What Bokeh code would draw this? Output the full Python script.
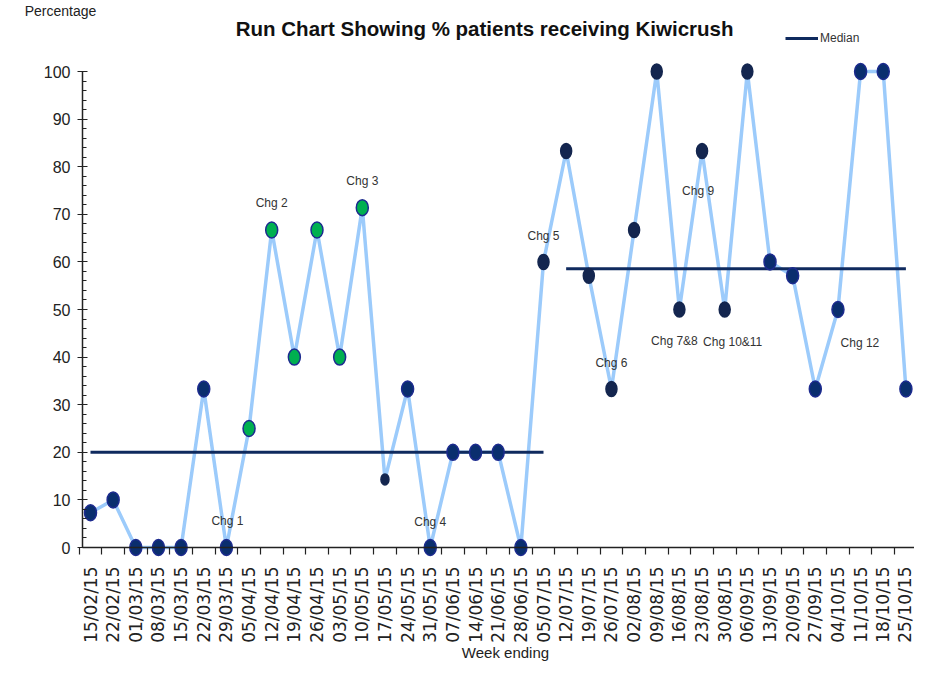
import math
from bokeh.plotting import figure
from bokeh.models import FixedTicker, Label, Legend, LegendItem, ColumnDataSource
from bokeh.embed import file_html
from bokeh.resources import INLINE

# ---------------- data ----------------
weeks = ["15/02/15", "22/02/15", "01/03/15", "08/03/15", "15/03/15", "22/03/15",
         "29/03/15", "05/04/15", "12/04/15", "19/04/15", "26/04/15", "03/05/15",
         "10/05/15", "17/05/15", "24/05/15", "31/05/15", "07/06/15", "14/06/15",
         "21/06/15", "28/06/15", "05/07/15", "12/07/15", "19/07/15", "26/07/15",
         "02/08/15", "09/08/15", "16/08/15", "23/08/15", "30/08/15", "06/09/15",
         "13/09/15", "20/09/15", "27/09/15", "04/10/15", "11/10/15", "18/10/15",
         "25/10/15"]
percent = [7.3, 10, 0, 0, 0, 33.3, 0, 25, 66.7, 40, 66.7, 40, 71.4, 14.3, 33.3, 0,
           20, 20, 20, 0, 60, 83.3, 57.1, 33.3, 66.7, 100, 50, 83.3, 50, 100, 60,
           57.1, 33.3, 50, 100, 100, 33.3]
marker_group = (["base"] * 7 + ["green"] * 6 + ["small"] + ["base"] * 6 +
                ["dark"] * 10 + ["base"] * 7)

median_values = [20, 58.55]
median_start = ["15/02/15", "12/07/15"]
median_end = ["05/07/15", "25/10/15"]

chg_weeks = ["29/03/15", "12/04/15", "10/05/15", "31/05/15", "05/07/15", "26/07/15",
             "16/08/15", "23/08/15", "30/08/15", "04/10/15"]
chg_texts = ["Chg 1", "Chg 2", "Chg 3", "Chg 4", "Chg 5", "Chg 6", "Chg 7&8",
             "Chg 9", "Chg 10&11", "Chg 12"]

y_ticks = list(range(0, 101, 10))
y_minor = list(range(0, 101, 2))

title_text = "Run Chart Showing %  patients receiving Kiwicrush"
y_title = "Percentage"
x_title = "Week ending"
legend_text = "Median"

# ---------------- layout helpers (canvas px) ----------------
W, H = 914, 661
PX_X = 22.65          # px per week
PX_Y = 4.76           # px per percent
X0 = 90               # canvas x of first week
Y0 = 547              # canvas y of 0 %

def dx(cx):
    return (cx - X0) / PX_X

def dy(cy):
    return (Y0 - cy) / PX_Y

FONT = "Liberation Sans"
idx = list(range(len(weeks)))

p = figure(width=W, height=H, output_backend="svg", toolbar_location=None,
           x_range=(dx(0), dx(W)), y_range=(dy(H), dy(0)),
           min_border_left=0, min_border_right=0, min_border_top=0,
           min_border_bottom=0, title_location=None)
p.outline_line_color = None
p.xgrid.visible = False
p.ygrid.visible = False
p.background_fill_color = "white"
p.border_fill_color = "white"

# x axis
xa = p.xaxis[0]
xa.fixed_location = 0
xa.bounds = (dx(82), dx(W))
xa.ticker = FixedTicker(ticks=idx, minor_ticks=[i - 0.5 for i in idx])
xa.major_label_overrides = {i: w for i, w in enumerate(weeks)}
xa.major_label_orientation = math.pi / 2
xa.major_tick_line_color = None
xa.major_tick_out = 0
xa.major_tick_in = 0
xa.minor_tick_out = 7
xa.minor_tick_in = 0
xa.minor_tick_line_color = "#222222"
xa.minor_tick_line_width = 1.2
xa.axis_line_color = "#222222"
xa.axis_line_width = 1.5
xa.major_label_standoff = 12
xa.major_label_text_font = "DejaVu Sans"
xa.major_label_text_font_size = "17px"
xa.major_label_text_color = "#222222"

# y axis
ya = p.yaxis[0]
ya.fixed_location = dx(82)
ya.bounds = (0, 100)
ya.ticker = FixedTicker(ticks=y_ticks, minor_ticks=y_minor)
ya.major_tick_in = 5
ya.major_tick_out = 5
ya.minor_tick_in = 4
ya.minor_tick_out = 0
ya.axis_line_color = "#222222"
ya.axis_line_width = 1.5
ya.major_tick_line_color = "#222222"
ya.minor_tick_line_color = "#222222"
ya.major_label_standoff = 7
ya.major_label_text_font = FONT
ya.major_label_text_font_size = "16px"
ya.major_label_text_color = "#222222"

# run line
p.line(idx, percent, line_color="#9ccbfb", line_width=3.5)

# medians
med_renderers = []
for v, s, e in zip(median_values, median_start, median_end):
    i0, i1 = weeks.index(s), weeks.index(e)
    r = p.line([i0, i1], [v, v], line_color="#0f2a5e", line_width=3)
    med_renderers.append(r)

# markers
styles = {
    "base": dict(fill="#0a2e6e", line="#1d2b8f", w=12, h=16),
    "green": dict(fill="#00b050", line="#1d2b8f", w=12, h=16),
    "dark": dict(fill="#14264f", line="#14264f", w=11, h=15),
    "small": dict(fill="#14264f", line="#14264f", w=8, h=11),
}
for g, st in styles.items():
    xs = [i for i in idx if marker_group[i] == g]
    ys = [percent[i] for i in xs]
    src = ColumnDataSource(dict(x=xs, y=ys))
    p.ellipse("x", "y", width=st["w"], height=st["h"], width_units="screen",
              height_units="screen", source=src, fill_color=st["fill"],
              line_color=st["line"], line_width=1.5)

# change annotations (offsets in px from the point)
chg_offsets = [(1, 27), (0, 27), (0, 27), (0, 26), (0, 26), (0, 26), (-5, -31),
               (-4, -40), (8, -32), (22, -33)]
for w, t, (ox, oy) in zip(chg_weeks, chg_texts, chg_offsets):
    i = weeks.index(w)
    p.add_layout(Label(x=i + ox / PX_X, y=percent[i] + oy / PX_Y, text=t,
                       text_align="center", text_baseline="middle",
                       text_font=FONT, text_font_size="12px",
                       text_color="#333333"))

# titles
p.add_layout(Label(x=dx(487), y=dy(28), text=title_text, text_align="center",
                   text_baseline="middle", text_font=FONT, text_font_style="bold",
                   text_font_size="20.5px", text_color="#111111"))
p.add_layout(Label(x=dx(60), y=dy(10), text=y_title, text_align="center",
                   text_baseline="middle", text_font=FONT, text_font_size="14px",
                   text_color="#222222"))
p.add_layout(Label(x=dx(505), y=dy(652), text=x_title, text_align="center",
                   text_baseline="middle", text_font=FONT, text_font_size="15px",
                   text_color="#222222"))

# legend
legend = Legend(items=[LegendItem(label=legend_text, renderers=[med_renderers[0]])],
                location=(785, H - 45), padding=0, margin=0, glyph_width=33,
                glyph_height=14, label_standoff=2, label_height=14,
                border_line_color=None, background_fill_alpha=0,
                label_text_font=FONT, label_text_font_size="12px",
                label_text_color="#333333")
p.add_layout(legend)

open("out.html", "w").write(file_html(p, INLINE))
